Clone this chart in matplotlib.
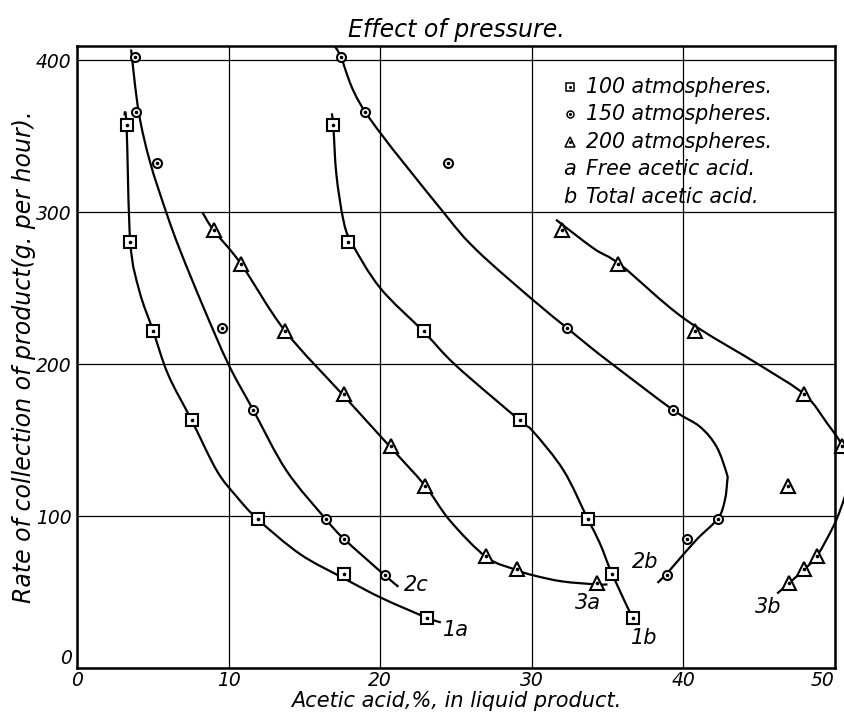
import numpy as np
import matplotlib
matplotlib.use("Agg")
import matplotlib.pyplot as plt
from matplotlib.path import Path
from matplotlib.patches import PathPatch

plt.rcParams['font.family'] = ['DejaVu Sans']
plt.rcParams['font.style'] = 'italic'

# rate of collection (g. per hour) for each run
rate_100 = [357, 280, 222, 163, 98, 62, 33]
rate_150 = [402, 366, 332, 224, 170, 98, 85, 61]
rate_200 = [288, 266, 222, 180, 146, 120, 74, 65, 56]

# acetic acid %, free (a) and total (b)
free_100 = [3.25, 3.5, 5.0, 7.55, 11.9, 17.6, 23.1]
total_100 = [16.9, 17.9, 22.9, 29.2, 33.7, 35.3, 36.7]
free_150 = [3.8, 3.85, 5.25, 9.55, 11.6, 16.4, 17.6, 20.3]
total_150 = [17.4, 19.0, 24.5, 32.3, 39.3, 42.3, 40.25, 38.9]
free_200 = [9.0, 10.8, 13.7, 17.6, 20.7, 22.95, 27.0, 29.0, 34.3]
total_200 = [32.0, 35.7, 40.8, 48.0, 50.5, 46.9, 48.85, 48.0, 47.0]

# hand drawn curves
c1a_x = [3.1, 3.25, 3.5, 4.1, 5.0, 6.0, 7.55, 9.2, 10.5, 11.9, 14.7, 17.6, 20.1, 23.1, 24.0]
c1a_y = [365, 357, 280, 248, 222, 193, 163, 130, 113, 98, 75, 59, 46, 33, 30]
c2a_x = [3.55, 4.05, 4.8, 5.9, 6.78, 8.3, 9.97, 11.6, 13.8, 16.4, 17.6, 20.3, 21.2]
c2a_y = [407, 366, 333, 299, 275, 238, 200, 170, 130, 98, 85, 61, 53.5]
c3a_x = [8.25, 9.0, 10.8, 13.7, 17.6, 20.7, 22.95, 24.6, 27.0, 29.0, 30.1, 32.0, 34.3, 35.0]
c3a_y = [300, 288, 266, 222, 179, 145, 120, 97, 73, 64.5, 61, 57, 55, 55]
c1b_x = [16.8, 16.9, 17.1, 17.56, 18.1, 20.0, 22.9, 25.0, 29.2, 30.1, 32.1, 33.7, 34.5, 35.3, 36.7]
c1b_y = [365, 357, 325, 295, 280, 250, 221, 199, 163, 155.5, 130, 98, 82, 62, 32]
c2b_x = [17.0, 17.4, 19.0, 24.16, 26.36, 30.1, 32.3, 33.84, 35.4, 39.3, 41.1, 42.2, 42.87, 42.9, 42.75, 42.3, 40.9, 39.6, 38.9, 38.3]
c2b_y = [409, 402, 366, 300, 275, 242, 224, 211.4, 199.3, 170, 158.8, 145.6, 128, 122.6, 110.5, 98.5, 84.7, 70, 62, 56]
c3b_x = [31.6, 34.1, 35.9, 40.05, 45.1, 48.0, 49.5, 50.5, 50.85, 50.8, 50.4, 49.9, 48.85, 48.0, 47.0, 46.2]
c3b_y = [295, 276, 265, 230, 199, 180, 161, 146, 130, 118, 105, 93, 74, 65, 56, 49]

legend_labels = ['100 atmospheres.', '150 atmospheres.', '200 atmospheres.',
                 'Free acetic acid.', 'Total acetic acid.']


def curve_path(xs, ys):
    # smooth bezier path through the traced points
    p = np.column_stack([xs, ys]).astype(float)
    n = len(p)
    verts = [p[0]]
    codes = [Path.MOVETO]
    for i in range(n - 1):
        p0 = p[i - 1] if i > 0 else p[i]
        p3 = p[i + 2] if i + 2 < n else p[i + 1]
        c1 = p[i] + (p[i + 1] - p0) / 6.0
        c2 = p[i + 1] - (p3 - p[i]) / 6.0
        verts += [c1, c2, p[i + 1]]
        codes += [Path.CURVE4] * 3
    return Path(verts, codes)


fig = plt.figure(figsize=(8.44, 7.14), dpi=100)
ax = fig.add_axes([0.0916, 0.0644, 0.8974, 0.8716])
ax.set_xlim(0, 50)
ax.set_ylim(0, 409.5)
ax.set_xticks([0, 10, 20, 30, 40, 50])
ax.set_yticks([0, 100, 200, 300, 400])
ax.grid(True, color='black', lw=0.9)
ax.set_axisbelow(True)
ax.tick_params(length=0, labelsize=13.5, pad=2)
ax.tick_params(axis='y', pad=4)
for sp in ax.spines.values():
    sp.set_linewidth(1.8)
ax.get_xticklabels()[-1].set_ha('right')
ax.get_yticklabels()[0].set_va('bottom')

# curves
for cx, cy in [(c1a_x, c1a_y), (c2a_x, c2a_y), (c3a_x, c3a_y),
               (c1b_x, c1b_y), (c2b_x, c2b_y), (c3b_x, c3b_y)]:
    ax.add_patch(PathPatch(curve_path(cx, cy), fill=False, edgecolor='black',
                           lw=1.6, clip_on=False, zorder=3))

# points
def pts(x, y, m, ms):
    ax.plot(x, y, ls='none', marker=m, ms=ms, mfc='white', mec='black', mew=1.5, clip_on=False, zorder=5)
    ax.plot(x, y, ls='none', marker='o', ms=1.6, color='black', clip_on=False, zorder=6)

pts(free_100, rate_100, 's', 8.5)
pts(total_100, rate_100, 's', 8.5)
pts(free_150, rate_150, 'o', 6.5)
pts(total_150, rate_150, 'o', 6.5)
pts(free_200, rate_200, '^', 9.5)
pts(total_200, rate_200, '^', 9.5)

# curve labels
lab = dict(fontsize=15, ha='center', va='center')
ax.text(25.0, 25.3, '1a', **lab)
ax.text(37.4, 20, '1b', **lab)
ax.text(22.4, 54.6, '2c', **lab)
ax.text(37.5, 70, '2b', **lab)
ax.text(33.7, 43, '3a', **lab)
ax.text(45.6, 40, '3b', **lab)

# legend block
ly0 = 0.934
dy = 0.0442
mk = ['s', 'o', '^']
msz = [6, 5, 7]
for i, t in enumerate(legend_labels):
    yy = ly0 - i * dy
    if i < 3:
        ax.plot([0.650], [yy], transform=ax.transAxes, marker=mk[i], ms=msz[i],
                mfc='white', mec='black', mew=1.1, ls='none')
        ax.plot([0.650], [yy], transform=ax.transAxes, marker='o', ms=1.2, color='black', ls='none')
    else:
        ax.text(0.650, yy, 'ab'[i - 3], transform=ax.transAxes, fontsize=15,
                ha='center', va='center')
    ax.text(0.672, yy, t, transform=ax.transAxes, fontsize=14.8, ha='left', va='center')

ax.set_title('Effect of pressure.', fontsize=17, pad=6)
ax.set_xlabel('Acetic acid,%, in liquid product.', fontsize=15, labelpad=1)
ax.set_ylabel('Rate of collection of product(g. per hour).', fontsize=17, labelpad=0)

fig.savefig('out.png', dpi=100)
